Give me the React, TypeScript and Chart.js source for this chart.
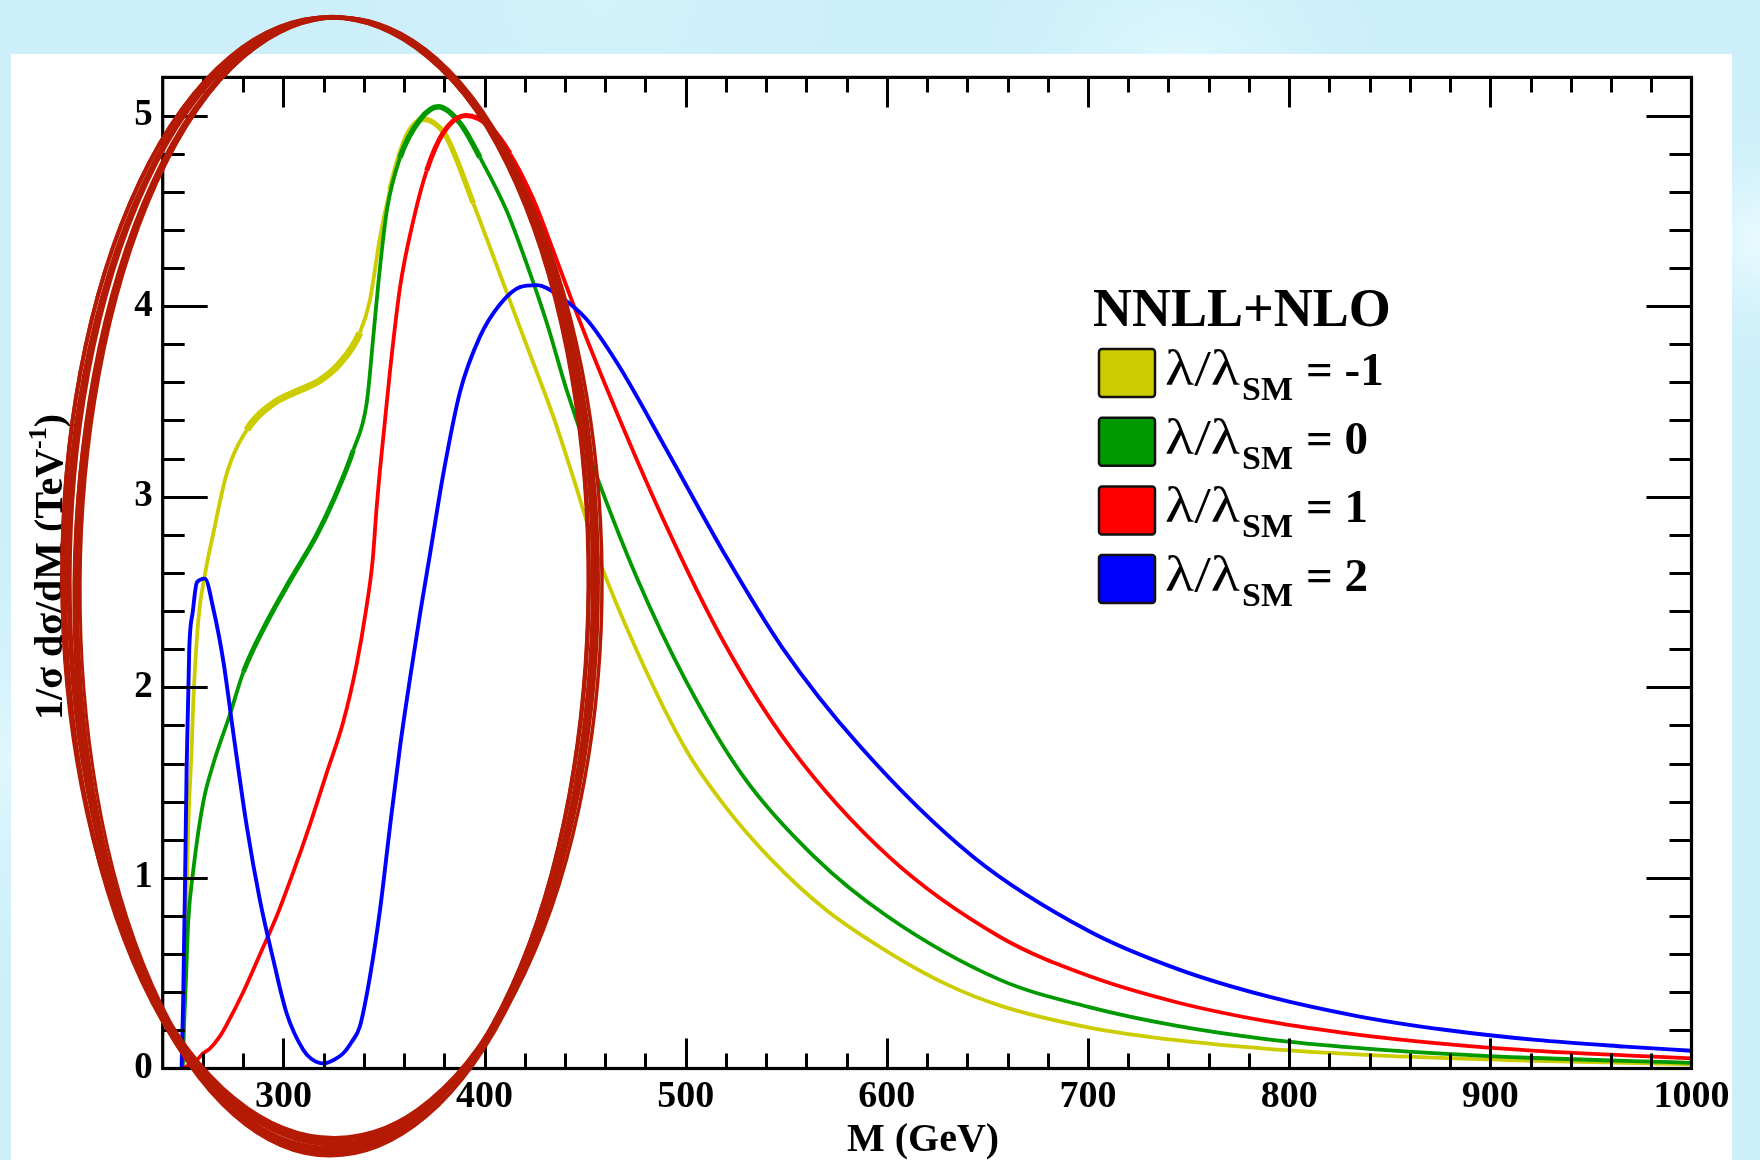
import React, { useEffect, useRef } from 'react';
import { Chart, registerables } from 'chart.js';

Chart.register(...registerables);

// ---------------- data ----------------
const M_YELLOW = [249.5, 250.3, 251.1, 252.7, 254.4, 255.2, 257.7, 261.5, 265, 271.8, 281.8, 295, 308.3, 318.2, 328.1, 338, 343, 348, 353, 359.6, 364, 369.6, 375, 381, 394.4, 404.4, 414.3, 424.3, 434.2, 444.1, 456.6, 477.5, 500.3, 520, 542.2, 570, 600, 630, 656.3, 700.6, 745, 789.4, 833.8, 878.2, 922.6, 967, 1000];
const V_YELLOW = [0, 0.22, 0.57, 1.27, 1.68, 1.92, 2.35, 2.62, 2.8, 3.12, 3.35, 3.49, 3.56, 3.61, 3.7, 3.86, 4.03, 4.36, 4.61, 4.85, 4.94, 4.98, 4.96, 4.89, 4.54, 4.26, 3.98, 3.7, 3.42, 3.1, 2.68, 2.15, 1.67, 1.37, 1.1, 0.83, 0.615, 0.44, 0.33, 0.215, 0.147, 0.103, 0.074, 0.054, 0.04, 0.029, 0.022];

const M_GREEN = [250, 250.6, 251.6, 252.7, 255.2, 260.2, 265.2, 273.5, 280.1, 291.7, 303.3, 316.6, 324.8, 334.8, 341.4, 344.7, 347.2, 351.4, 358, 368, 377, 387.8, 397.7, 411, 421, 431, 440.8, 450.8, 475.5, 500.3, 528.8, 564, 600, 656.3, 700.6, 745, 789.4, 833.8, 878.2, 922.6, 967, 1000];
const V_GREEN = [0, 0.22, 0.48, 0.77, 1.04, 1.4, 1.6, 1.86, 2.08, 2.34, 2.56, 2.8, 2.98, 3.245, 3.49, 3.84, 4.12, 4.5, 4.78, 4.98, 5.046, 4.96, 4.78, 4.5, 4.22, 3.91, 3.56, 3.25, 2.58, 2.03, 1.53, 1.11, 0.8, 0.465, 0.322, 0.222, 0.153, 0.108, 0.077, 0.055, 0.04, 0.03];

const M_RED = [250, 256.9, 260.2, 263.5, 268.5, 271.8, 280, 288.4, 296.7, 304.9, 313.2, 321.5, 329.8, 336.4, 341, 344.4, 346.4, 348, 353, 358, 364.6, 371.2, 379.5, 391, 402.7, 412.7, 424.3, 434.2, 444.1, 460.3, 488.9, 519.3, 551.7, 601.1, 656.3, 700.6, 745, 789.4, 833.8, 878.2, 922.6, 967, 1000];
const V_RED = [0, 0.045, 0.08, 0.105, 0.17, 0.23, 0.4, 0.6, 0.8, 1.03, 1.28, 1.55, 1.82, 2.12, 2.4, 2.67, 2.95, 3.14, 3.66, 4.1, 4.45, 4.71, 4.91, 5.0, 4.94, 4.8, 4.56, 4.29, 4.01, 3.58, 2.88, 2.23, 1.69, 1.11, 0.69, 0.485, 0.345, 0.247, 0.178, 0.128, 0.093, 0.069, 0.053];

const M_BLUE = [249.4, 250.2, 251.1, 251.9, 253.2, 255, 257, 261, 265, 270.1, 275.1, 281.8, 288.4, 295, 301.6, 309.9, 314, 319.8, 325, 329.8, 334, 338, 343, 348, 353, 358, 363, 368, 372.9, 379.5, 387.8, 397.7, 407.7, 417.6, 426, 437.5, 450.8, 466, 490.8, 519.3, 547.9, 585.9, 643, 700.6, 745, 789.4, 833.8, 878.2, 922.6, 967, 1000];
const V_BLUE = [0, 0.37, 0.97, 1.58, 2.2, 2.4, 2.55, 2.57, 2.42, 2.14, 1.76, 1.27, 0.88, 0.57, 0.29, 0.097, 0.05, 0.027, 0.045, 0.08, 0.14, 0.22, 0.48, 0.83, 1.27, 1.69, 2.05, 2.39, 2.7, 3.12, 3.55, 3.84, 4.01, 4.1, 4.11, 4.05, 3.93, 3.7, 3.24, 2.7, 2.21, 1.7, 1.11, 0.72, 0.52, 0.378, 0.275, 0.202, 0.15, 0.115, 0.093];

const SERIES_M = [M_YELLOW, M_GREEN, M_RED, M_BLUE];
const SERIES_V = [V_YELLOW, V_GREEN, V_RED, V_BLUE];
const LAMBDA_VALUES = ['-1', '0', '1', '2'];
const SERIES_COLORS = ['#cccc00', '#009900', '#ff0000', '#0000ff'];
const LEGEND_TITLE = 'NNLL+NLO';

const X_TICKS = [300, 400, 500, 600, 700, 800, 900, 1000];
const Y_TICKS = [0, 1, 2, 3, 4, 5];
const X_RANGE = [240, 1000];
const Y_RANGE = [0, 5.2];
const X_MINOR = 20;
const Y_MINOR = 0.2;
const X_TITLE = 'M (GeV)';
const Y_TITLE_MAIN = '1/σ dσ/dM (TeV';
const Y_TITLE_SUP = '-1';
const Y_TITLE_END = ')';

// hand-drawn highlight ellipse, in data units (centre M, centre value, half-width GeV, half-height)
const HIGHLIGHT = { m: 324.2, v: 2.56, dm: 130.7, dv: 2.955 };

// ---------------- styling ----------------
const W = 1760;
const H = 1160;
const FAMILY = "'Liberation Serif', 'Times New Roman', Times, serif";

const backgroundPlugin = {
  id: 'slideBackground',
  beforeDraw(chart: any) {
    const ctx = chart.ctx;
    ctx.save();
    ctx.fillStyle = '#cdeffa';
    ctx.fillRect(0, 0, W, H);
    const blobs = [
      [1180, 90, 230, 'rgba(228,250,254,0.95)'],
      [1760, 240, 140, 'rgba(236,252,255,0.95)'],
      [0, 760, 260, 'rgba(226,248,253,0.9)'],
      [600, 0, 300, 'rgba(214,244,252,0.7)'],
    ];
    for (const [x, y, r, c] of blobs as any) {
      const g = ctx.createRadialGradient(x, y, 0, x, y, r);
      g.addColorStop(0, c);
      g.addColorStop(1, 'rgba(205,239,250,0)');
      ctx.fillStyle = g;
      ctx.fillRect(0, 0, W, H);
    }
    ctx.fillStyle = '#ffffff';
    ctx.fillRect(11, 54, 1721, H - 54);
    ctx.restore();
  },
};

const decorPlugin = {
  id: 'physFrame',
  afterDraw(chart: any) {
    const ctx = chart.ctx;
    const xs = chart.scales.x;
    const ys = chart.scales.y;
    const { left, right, top, bottom } = chart.chartArea;
    ctx.save();
    ctx.strokeStyle = '#000';
    ctx.lineWidth = 3;
    ctx.lineCap = 'butt';
    // inward ticks on all four sides
    const nx = Math.round((X_RANGE[1] - X_RANGE[0]) / X_MINOR);
    ctx.beginPath();
    for (let i = 1; i < nx; i++) {
      const v = X_RANGE[0] + i * X_MINOR;
      const px = Math.round(xs.getPixelForValue(v)) + 0.5;
      const major = X_TICKS.includes(v);
      const len = major ? 30 : 15;
      ctx.moveTo(px, bottom);
      ctx.lineTo(px, bottom - len);
      ctx.moveTo(px, top);
      ctx.lineTo(px, top + len);
    }
    const ny = Math.round((Y_RANGE[1] - Y_RANGE[0]) / Y_MINOR);
    for (let i = 1; i < ny; i++) {
      const v = Y_RANGE[0] + i * Y_MINOR;
      const py = Math.round(ys.getPixelForValue(v)) + 0.5;
      const major = Y_TICKS.includes(Math.round(v * 1000) / 1000);
      const len = major ? 45 : 22;
      ctx.moveTo(left, py);
      ctx.lineTo(left + len, py);
      ctx.moveTo(right, py);
      ctx.lineTo(right - len, py);
    }
    ctx.stroke();
    ctx.lineWidth = 3.2;
    ctx.strokeRect(left, top, right - left, bottom - top);

    // axis titles
    ctx.fillStyle = '#000';
    ctx.font = `bold 40px ${FAMILY}`;
    ctx.textAlign = 'center';
    ctx.textBaseline = 'alphabetic';
    ctx.fillText(X_TITLE, (left + right) / 2 - 4, 1151);

    ctx.save();
    ctx.translate(62, (top + bottom) / 2 - 6);
    ctx.rotate(-Math.PI / 2);
    const mainFont = `bold 40px ${FAMILY}`;
    const supFont = `bold 26px ${FAMILY}`;
    ctx.font = mainFont;
    const w1 = ctx.measureText(Y_TITLE_MAIN).width;
    const w3 = ctx.measureText(Y_TITLE_END).width;
    ctx.font = supFont;
    const w2 = ctx.measureText(Y_TITLE_SUP).width;
    let tx = -(w1 + w2 + w3) / 2;
    ctx.textAlign = 'left';
    ctx.font = mainFont;
    ctx.fillText(Y_TITLE_MAIN, tx, 0);
    tx += w1;
    ctx.font = supFont;
    ctx.fillText(Y_TITLE_SUP, tx, -16);
    tx += w2;
    ctx.font = mainFont;
    ctx.fillText(Y_TITLE_END, tx, 0);
    ctx.restore();

    // legend
    ctx.textAlign = 'left';
    ctx.font = `bold 54px ${FAMILY}`;
    ctx.fillText(LEGEND_TITLE, 1093, 326);
    for (let i = 0; i < LAMBDA_VALUES.length; i++) {
      const y0 = 349 + i * 68.7;
      ctx.fillStyle = SERIES_COLORS[i];
      ctx.beginPath();
      (ctx as any).roundRect(1099, y0, 56, 48, 3);
      ctx.fill();
      ctx.lineWidth = 2.5;
      ctx.strokeStyle = '#111';
      ctx.stroke();
      ctx.fillStyle = '#000';
      const base = y0 + 36;
      ctx.font = `50px ${FAMILY}`;
      const lw = ctx.measureText('λ/λ').width;
      ctx.save();
      ctx.translate(1165, base);
      ctx.scale(75 / lw, 1);
      ctx.fillText('λ/λ', 0, 0);
      ctx.restore();
      ctx.font = `bold 34px ${FAMILY}`;
      ctx.fillText('SM', 1242, base + 15);
      ctx.font = `bold 47px ${FAMILY}`;
      ctx.fillText('= ' + LAMBDA_VALUES[i], 1306, base);
    }

    // hand-drawn highlight ellipse (several overlapping strokes)
    const cx = xs.getPixelForValue(HIGHLIGHT.m);
    const cy = ys.getPixelForValue(HIGHLIGHT.v);
    const rx = xs.getPixelForValue(HIGHLIGHT.m + HIGHLIGHT.dm) - cx;
    const ry = cy - ys.getPixelForValue(HIGHLIGHT.v + HIGHLIGHT.dv);
    const strokes = [
      [0, 0, 0, 0, 0, 5],
      [2, 3, -4, 3, 0.004, 4],
      [-2, -2, 5, -2, -0.003, 4],
      [1, 5, -7, 5, 0.008, 4],
      [-1, 2, 3, 2, 0.002, 4],
      [3, 6, -2, 6, 0.01, 3.5],
      [0, -3, 7, -3, -0.005, 3.5],
      [2, 4, -9, 4, 0.006, 3],
    ];
    ctx.strokeStyle = 'rgb(180,26,4)';
    for (const [dx, dy, drx, dry, rot, lw] of strokes) {
      ctx.lineWidth = lw;
      ctx.beginPath();
      ctx.ellipse(cx + dx, cy + dy, rx + drx, ry + dry, rot, 0, Math.PI * 2);
      ctx.stroke();
    }
    ctx.restore();
  },
};

function widthFor(series: number) {
  return (c: any) => {
    const x = (c.p0.parsed.x + c.p1.parsed.x) / 2;
    if (series === 0) {
      if (x > 282 && x < 336) return 7;
      if (x > 352 && x < 390) return 5.5;
      return 3.8;
    }
    if (series === 1) {
      if (x > 285 && x < 330) return 5;
      if (x > 362 && x < 400) return 5.5;
      return 3.8;
    }
    if (series === 2) {
      if (x > 375 && x < 412) return 5;
      return 3.8;
    }
    return 3.9;
  };
}

export default function App() {
  const ref = useRef<HTMLCanvasElement | null>(null);
  useEffect(() => {
    document.body.style.margin = '0';
    const canvas = ref.current;
    if (!canvas) return;
    const datasets = SERIES_M.map((ms, i) => ({
      label: `λ/λSM = ${LAMBDA_VALUES[i]}`,
      data: ms.map((m, k) => ({ x: m, y: SERIES_V[i][k] })),
      borderColor: SERIES_COLORS[i],
      backgroundColor: SERIES_COLORS[i],
      borderWidth: 3.8,
      pointRadius: 0,
      fill: false,
      cubicInterpolationMode: 'monotone' as const,
      borderJoinStyle: 'round' as const,
      order: 4 - i,
      segment: { borderWidth: widthFor(i) },
    }));
    const tickFont = { family: FAMILY, weight: 'bold' as const };
    const chart = new Chart(canvas, {
      type: 'line',
      data: { datasets },
      options: {
        responsive: false,
        animation: false,
        devicePixelRatio: 1,
        events: [],
        layout: { padding: { left: 0, right: 68.5, top: 77.4, bottom: 0 } },
        plugins: { legend: { display: false }, tooltip: { enabled: false } },
        scales: {
          x: {
            type: 'linear',
            min: X_RANGE[0],
            max: X_RANGE[1],
            grid: { display: false, drawTicks: false },
            border: { display: false },
            afterBuildTicks: (s: any) => {
              s.ticks = X_TICKS.map((value) => ({ value }));
            },
            afterFit: (s: any) => {
              s.height = 91.5;
            },
            ticks: {
              autoSkip: false,
              maxRotation: 0,
              padding: 6,
              color: '#000',
              font: { ...tickFont, size: 38 },
              callback: (v: any) => String(v),
            },
          },
          y: {
            type: 'linear',
            min: Y_RANGE[0],
            max: Y_RANGE[1],
            grid: { display: false, drawTicks: false },
            border: { display: false },
            afterBuildTicks: (s: any) => {
              s.ticks = Y_TICKS.map((value) => ({ value }));
            },
            afterFit: (s: any) => {
              s.width = 162.7;
            },
            ticks: {
              autoSkip: false,
              padding: 10,
              color: '#000',
              font: { ...tickFont, size: 37 },
              callback: (v: any) => String(v),
            },
          },
        },
      },
      plugins: [backgroundPlugin, decorPlugin],
    });
    return () => chart.destroy();
  }, []);
  return <canvas ref={ref} width={W} height={H} style={{ display: 'block' }} />;
}
